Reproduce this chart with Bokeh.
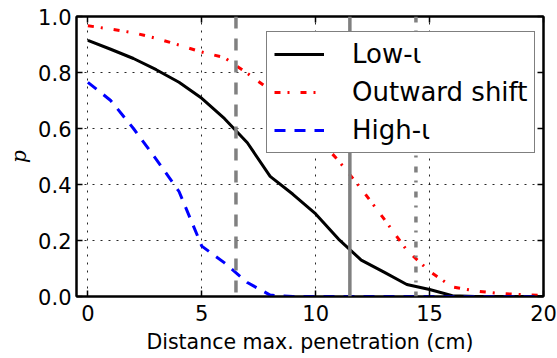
from bokeh.plotting import figure
from bokeh.models import (Range1d, LinearAxis, FixedTicker, Span, Legend,
                          LegendItem, NumeralTickFormatter, CustomLabelingPolicy)
from bokeh.embed import file_html
from bokeh.resources import INLINE

# Probability of exceeding a given distance from max. penetration
distance = [0, 1, 2, 3, 4, 5, 6, 7, 8, 9, 10, 11, 12, 13, 14, 15, 16, 17, 18, 19, 20]
p_low_iota = [0.915, 0.883, 0.850, 0.810, 0.765, 0.708, 0.635, 0.549, 0.429, 0.365,
              0.295, 0.205, 0.130, 0.087, 0.043, 0.025, 0.003, 0.0, 0.0, 0.0, 0.0]
p_outward = [0.967, 0.955, 0.942, 0.922, 0.898, 0.873, 0.853, 0.797, 0.738, 0.660,
             0.575, 0.485, 0.385, 0.277, 0.165, 0.090, 0.034, 0.020, 0.011, 0.007, 0.004]
p_high_iota = [0.765, 0.700, 0.600, 0.490, 0.375, 0.180, 0.120, 0.050, 0.005, 0.0,
               0.0, 0.0, 0.0, 0.0, 0.0, 0.0, 0.0, 0.0, 0.0, 0.0, 0.0]

# reference distances (cm) marked by grey vertical lines
ref_dashed = 6.5
ref_solid = 11.5
ref_dashdot = 14.4

x_ticks = [0, 5, 10, 15, 20]
y_ticks = [0.0, 0.2, 0.4, 0.6, 0.8, 1.0]

FONT = "DejaVu Sans"

p = figure(width=557, height=358, x_range=Range1d(-0.5, 20), y_range=Range1d(0, 1),
           output_backend="svg", toolbar_location=None,
           min_border_left=76, min_border_right=14, min_border_top=16,
           min_border_bottom=62)
p.background_fill_color = "white"
p.border_fill_color = "white"
p.outline_line_color = "black"
p.outline_line_width = 2

# mirrored axes on top and right carry only inward ticks
p.add_layout(LinearAxis(), "right")
p.add_layout(LinearAxis(), "above")

for ax in p.xaxis:
    ax.ticker = FixedTicker(ticks=x_ticks)
for ax in p.yaxis:
    ax.ticker = FixedTicker(ticks=y_ticks)
    ax.formatter = NumeralTickFormatter(format="0.0")

for ax in p.axis:
    ax.axis_line_color = "black"
    ax.axis_line_width = 2
    ax.major_tick_in = 6
    ax.major_tick_out = 0
    ax.major_tick_line_width = 1.5
    ax.minor_tick_in = 0
    ax.minor_tick_out = 0
    ax.major_label_text_font = FONT
    ax.major_label_text_font_size = "21px"
    ax.major_label_text_color = "black"
    ax.axis_label_text_color = "black"

# the mirrored axes draw no tick labels
no_labels = CustomLabelingPolicy(code="""
    const all = [...indices]
    for (const i of all)
        indices.unset(i)
    return indices
""")
for ax in (p.right[0], p.above[0]):
    ax.major_label_policy = no_labels
    ax.major_label_text_font_size = "2px"
    ax.major_label_standoff = 0
    ax.axis_label_standoff = 0

xax = p.below[0]
xax.axis_label = "Distance max. penetration (cm)"
xax.axis_label_text_font = FONT
xax.axis_label_text_font_size = "20.5px"
xax.axis_label_text_font_style = "normal"
xax.axis_label_standoff = 6
xax.major_label_standoff = 8

yax = p.left[0]
yax.axis_label = "p"
yax.axis_label_text_font = "DejaVu Serif"
yax.axis_label_text_font_style = "italic"
yax.axis_label_text_font_size = "20px"
yax.axis_label_standoff = 4
yax.major_label_standoff = 5

for g in (p.xgrid, p.ygrid):
    g.grid_line_color = "black"
    g.grid_line_alpha = 0.85
    g.grid_line_width = 1
    g.grid_line_dash = "2 6"
p.xgrid.ticker = FixedTicker(ticks=x_ticks)
p.ygrid.ticker = FixedTicker(ticks=y_ticks)

for loc, dash in ((ref_dashed, "12 10"), (ref_solid, "solid"), (ref_dashdot, "6 8 2 9")):
    p.add_layout(Span(location=loc, dimension="height", line_color="grey",
                      line_width=3.5, line_dash=dash))

r_low = p.line(distance, p_low_iota, line_color="black", line_width=3)
r_out = p.line(distance, p_outward, line_color="red", line_width=3,
               line_dash="6 7 2 11")
r_high = p.line(distance, p_high_iota, line_color="blue", line_width=3,
                line_dash="11 9")

legend = Legend(items=[LegendItem(label="Low-ι", renderers=[r_low]),
                       LegendItem(label="Outward shift", renderers=[r_out]),
                       LegendItem(label="High-ι", renderers=[r_high])],
                location=(190, 143))
legend.label_text_font = FONT
legend.label_text_font_size = "26px"
legend.label_text_color = "black"
legend.glyph_width = 50
legend.label_standoff = 28
legend.padding = 7
legend.spacing = 8
legend.border_line_color = "black"
legend.border_line_width = 1.5
legend.background_fill_color = "white"
legend.background_fill_alpha = 1.0
p.add_layout(legend)

open("out.html", "w").write(file_html(p, INLINE))
